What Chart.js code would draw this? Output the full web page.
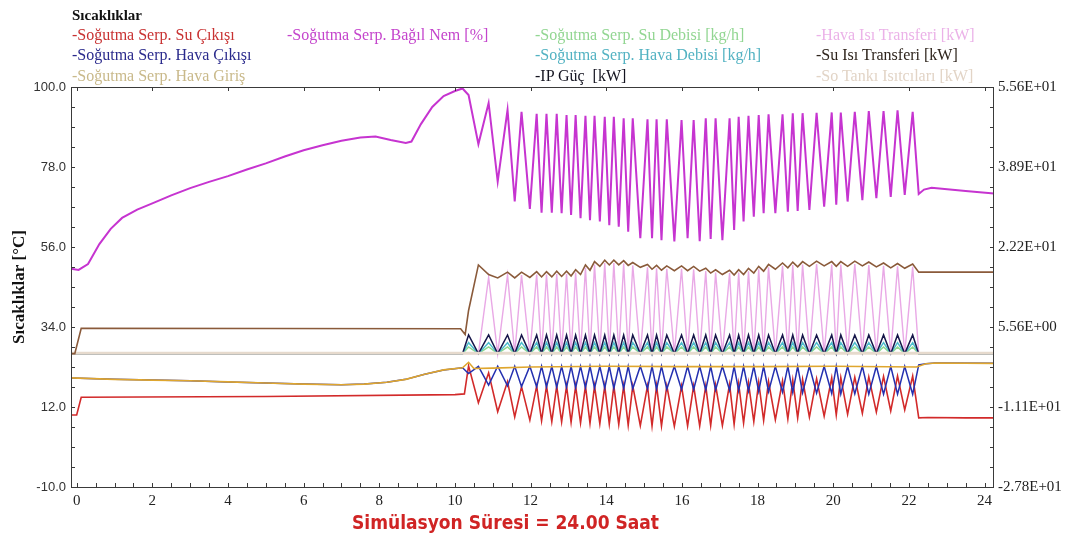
<!DOCTYPE html>
<html>
<head>
<meta charset="utf-8">
<script src="https://cdn.jsdelivr.net/npm/chart.js@4.4.1/dist/chart.umd.min.js"></script>
<style>
  body { margin: 0; background: #fff; }
  #wrap { position: relative; width: 1076px; height: 539px; overflow: hidden; }
  canvas { position: absolute; left: 0; top: 0; }
  .lg { position: absolute; font-family: "Liberation Serif", serif; font-size: 16px; line-height: 20px; white-space: pre; }
  #ttl { position: absolute; left: 72px; top: 5px; font-family: "Liberation Serif", serif; font-weight: bold; font-size: 15px; line-height: 20px; color: #111; }
  #xt { position: absolute; left: 352px; top: 510px; font-family: "Liberation Sans Narrow", "DejaVu Sans Condensed", sans-serif; font-weight: bold; font-size: 19px; line-height: 24px; color: #d02424; white-space: pre; }
</style>
</head>
<body>
<div id="wrap">
  <canvas id="c" width="1076" height="539"></canvas>
  <div id="ttl">Sıcaklıklar</div>
  <div id="xt">Simülasyon Süresi = 24.00 Saat</div>
</div>
<script>
// axis ticks
const xTicks = [0, 2, 4, 6, 8, 10, 12, 14, 16, 18, 20, 22, 24]
const leftTicks = [-10, 12, 34, 56, 78, 100]
const rightTicks = [-27.8, -11.12, 5.56, 22.24, 38.92, 55.6]

// shared times of the on/off cycling (peak, trough, peak, trough ...)
const oscT = [
  10.36, 10.62, 10.89, 11.13, 11.39, 11.58, 11.76, 11.98, 12.16, 12.29,
  12.42, 12.56, 12.69, 12.82, 12.95, 13.07, 13.19, 13.32, 13.45, 13.57,
  13.69, 13.83, 13.96, 14.08, 14.20, 14.33, 14.46, 14.58, 14.70, 14.90,
  15.09, 15.21, 15.33, 15.46, 15.60, 15.80, 15.99, 16.15, 16.31, 16.47,
  16.63, 16.76, 16.89, 17.07, 17.26, 17.38, 17.50, 17.63, 17.76, 17.90,
  18.03, 18.16, 18.29, 18.47, 18.66, 18.80, 18.93, 19.06, 19.19, 19.37,
  19.56, 19.76, 19.96, 20.08, 20.20, 20.38, 20.57, 20.77, 20.94, 21.14,
  21.33, 21.52, 21.70, 21.89, 22.10, 22.26
]

// Bağıl Nem [%]
const nemPreT = [-0.15, 0.05, 0.3, 0.6, 0.9, 1.2, 1.6, 2.0, 2.5, 3.0, 3.5, 4.0, 4.5, 5.0, 5.5, 6.0, 6.5, 7.0, 7.5, 7.9, 8.3, 8.7, 8.85, 9.1, 9.4, 9.7, 10.0, 10.2]
const nemPre = [50.0, 49.7, 51.3, 56.8, 61.0, 64.0, 66.3, 68.0, 70.2, 72.2, 73.9, 75.5, 77.3, 79.0, 80.9, 82.6, 84.0, 85.2, 86.1, 86.4, 85.4, 84.6, 85.0, 89.8, 94.5, 97.5, 98.9, 99.6]
const nemOsc = [
  97.8, 84.3, 95.6, 74.0, 93.7, 68.5, 93.2, 66.5, 92.6, 65.4,
  92.6, 65.4, 92.6, 65.3, 92.3, 64.8, 92.3, 63.9, 92.1, 63.4,
  92.1, 63.0, 91.8, 62.0, 91.8, 61.6, 91.4, 60.2, 91.4, 58.4,
  91.1, 58.4, 91.1, 57.9, 91.1, 57.5, 90.9, 58.4, 90.9, 57.6,
  91.4, 58.2, 91.4, 57.9, 91.4, 60.7, 91.8, 63.0, 92.1, 64.3,
  92.3, 65.3, 92.5, 65.3, 92.5, 65.7, 92.8, 65.9, 92.8, 66.2,
  92.9, 67.1, 93.0, 67.6, 93.0, 68.5, 93.2, 68.9, 93.4, 69.4,
  93.4, 69.8, 93.6, 70.3, 93.2, 70.6
]
const nemPostT = [22.4, 22.6, 23.5, 24.25]
const nemPost = [71.8, 72.3, 71.4, 70.7]

// Su Çıkışı
const suCikPreT = [-0.15, 0.0, 0.12, 5.0, 10.0, 10.25]
const suCikPre = [9.8, 9.8, 14.7, 14.9, 15.4, 15.6]
const suCikOsc = [
  23.3, 13.2, 21.4, 10.7, 19.0, 9.3, 17.6, 8.4, 17.8, 8.2,
  17.8, 8.0, 17.8, 7.9, 17.8, 7.8, 17.8, 7.6, 17.8, 7.5,
  17.8, 7.4, 17.8, 7.3, 17.8, 7.2, 17.8, 7.0, 17.8, 6.9,
  17.8, 6.8, 17.8, 6.8, 17.8, 6.7, 17.8, 6.8, 17.8, 6.8,
  17.8, 6.9, 18.0, 6.9, 18.2, 7.2, 18.4, 7.6, 18.6, 8.0,
  18.8, 8.3, 19.0, 8.5, 19.2, 8.7, 19.4, 9.0, 19.6, 9.2,
  19.8, 9.5, 20.0, 9.8, 20.1, 10.0, 20.2, 10.3, 20.3, 10.6,
  20.4, 10.9, 20.5, 11.2, 20.5, 9.0
]
const suCikPostT = [22.5, 23.5, 24.25]
const suCikPost = [9.1, 9.0, 9.0]

// Hava Giriş
const havaGirT = [-0.15, 1, 2, 3, 4, 5, 6, 7, 7.6, 8.2, 8.7, 9.2, 9.7, 10.2, 10.36, 10.5, 11.0, 12, 14, 16, 18, 20, 22.2, 22.45, 22.7, 24.25]
const havaGir = [20.0, 19.6, 19.4, 19.2, 18.9, 18.6, 18.3, 18.1, 18.3, 18.8, 19.6, 21.0, 22.2, 22.8, 24.3, 22.6, 22.7, 23.0, 23.2, 23.1, 23.1, 23.2, 23.0, 23.9, 24.1, 24.0]

// Hava Çıkışı (same as inlet before cooling starts)
const havaCikPreT = [-0.15, 1, 2, 3, 4, 5, 6, 7, 7.6, 8.2, 8.7, 9.2, 9.7, 10.2]
const havaCikPre = [20.0, 19.6, 19.4, 19.2, 18.9, 18.6, 18.3, 18.1, 18.3, 18.8, 19.6, 21.0, 22.2, 22.8]
const havaCikOsc = [
  21.2, 23.2, 18.0, 23.2, 17.8, 23.2, 17.6, 23.2, 17.5, 23.2,
  17.5, 23.2, 17.4, 23.2, 17.4, 23.2, 17.3, 23.2, 17.3, 23.2,
  17.2, 23.2, 17.2, 23.2, 17.1, 23.2, 17.1, 23.2, 17.0, 23.2,
  17.0, 23.2, 16.9, 23.2, 16.9, 23.2, 16.8, 23.2, 16.8, 23.2,
  16.7, 23.2, 16.7, 23.2, 16.6, 23.2, 16.5, 23.2, 16.4, 23.2,
  16.3, 23.2, 16.2, 23.2, 16.1, 23.2, 16.0, 23.2, 15.9, 23.2,
  15.8, 23.2, 15.7, 23.2, 15.6, 23.2, 15.6, 23.2, 15.5, 23.2,
  15.5, 23.2, 15.5, 23.2, 15.5, 23.6
]
const havaCikPostT = [22.45, 22.7, 24.25]
const havaCikPost = [23.9, 24.1, 24.0]

// right axis series [kW], [kg/h]
const zeroPreT = [-0.15, 10.2]
const zeroPre = [0, 0]
const zeroPostT = [24.25]
const zeroPost = [0]

const ipGucOsc = [
  3.9, 0, 3.9, 0, 3.9, 0, 3.9, 0, 3.9, 0,
  3.9, 0, 3.9, 0, 3.9, 0, 3.9, 0, 3.9, 0,
  3.9, 0, 3.9, 0, 3.9, 0, 3.9, 0, 3.9, 0,
  3.9, 0, 3.9, 0, 3.9, 0, 3.9, 0, 3.9, 0,
  3.9, 0, 3.9, 0, 3.9, 0, 3.9, 0, 3.9, 0,
  3.9, 0, 3.9, 0, 3.9, 0, 3.9, 0, 3.9, 0,
  3.9, 0, 3.9, 0, 3.9, 0, 3.9, 0, 3.9, 0,
  3.9, 0, 3.9, 0, 3.9, 0
]
const havaDebOsc = [
  2.3, 0, 2.3, 0, 2.3, 0, 2.3, 0, 2.3, 0,
  2.3, 0, 2.3, 0, 2.3, 0, 2.3, 0, 2.3, 0,
  2.3, 0, 2.3, 0, 2.3, 0, 2.3, 0, 2.3, 0,
  2.3, 0, 2.3, 0, 2.3, 0, 2.3, 0, 2.3, 0,
  2.3, 0, 2.3, 0, 2.3, 0, 2.3, 0, 2.3, 0,
  2.3, 0, 2.3, 0, 2.3, 0, 2.3, 0, 2.3, 0,
  2.3, 0, 2.3, 0, 2.3, 0, 2.3, 0, 2.3, 0,
  2.3, 0, 2.3, 0, 2.3, 0
]
const suDebOsc = [
  1.4, 0, 1.4, 0, 1.4, 0, 1.4, 0, 1.4, 0,
  1.4, 0, 1.4, 0, 1.4, 0, 1.4, 0, 1.4, 0,
  1.4, 0, 1.4, 0, 1.4, 0, 1.4, 0, 1.4, 0,
  1.4, 0, 1.4, 0, 1.4, 0, 1.4, 0, 1.4, 0,
  1.4, 0, 1.4, 0, 1.4, 0, 1.4, 0, 1.4, 0,
  1.4, 0, 1.4, 0, 1.4, 0, 1.4, 0, 1.4, 0,
  1.4, 0, 1.4, 0, 1.4, 0, 1.4, 0, 1.4, 0,
  1.4, 0, 1.4, 0, 1.4, 0
]
const havaIsiOsc = [
  0, 0, 15.9, 0, 16.4, 0, 16.4, 0, 16.5, 0,
  16.5, 0, 16.6, 0, 16.6, 0, 16.9, 0, 17.9, 0,
  18.6, 0, 18.9, 0, 18.9, 0, 18.8, 0, 18.4, 0,
  18.0, 0, 17.8, 0, 17.7, 0, 17.7, 0, 17.6, 0,
  17.2, 0, 16.9, 0, 16.8, 0, 16.9, 0, 17.2, 0,
  17.6, 0, 18.0, 0, 18.3, 0, 18.5, 0, 18.6, 0,
  18.7, 0, 18.6, 0, 18.6, 0, 18.7, 0, 18.5, 0,
  18.3, 0, 18.2, 0, 18.1, 0
]

// Su Isı Transferi
const suIsiPreT = [-0.15, -0.05, 0.12, 10.15, 10.27]
const suIsiPre = [0, 0, 5.3, 5.2, 4.0]
const suIsiOsc = [
  9.0, 18.5, 16.5, 15.8, 17.0, 15.8, 17.0, 15.9, 17.1, 16.0,
  17.1, 16.0, 17.2, 16.1, 17.2, 16.2, 17.5, 16.5, 18.5, 17.4,
  19.2, 18.2, 19.5, 18.5, 19.5, 18.5, 19.4, 18.4, 19.0, 18.0,
  18.6, 17.6, 18.4, 17.4, 18.3, 17.3, 18.3, 17.3, 18.2, 17.2,
  17.8, 16.8, 17.5, 16.5, 17.4, 16.4, 17.5, 16.5, 17.8, 16.8,
  18.2, 17.2, 18.6, 17.6, 18.9, 17.9, 19.1, 18.1, 19.2, 18.2,
  19.3, 18.3, 19.2, 18.2, 19.2, 18.2, 19.3, 18.3, 19.1, 18.1,
  18.9, 17.9, 18.8, 17.8, 18.7, 17.0
]
const suIsiPostT = [22.4, 24.25]
const suIsiPost = [17.0, 17.0]

// So Tankı Isıtcıları
const tankT = [-0.15, 24.25]
const tank = [0.1, 0.1]

function pts(preT, preV, oscV, postT, postV) {
  const p = []
  preT.forEach((t, i) => p.push({ x: t, y: preV[i] }))
  if (oscV) oscT.forEach((t, i) => p.push({ x: t, y: oscV[i] }))
  if (postT) postT.forEach((t, i) => p.push({ x: t, y: postV[i] }))
  return p
}

function sci(v) {
  let [m, e] = Number(v).toExponential(2).split('e')
  let n = parseInt(e)
  return m + 'E' + (n < 0 ? '-' : '+') + String(Math.abs(n)).padStart(2, '0')
}

// draw order: first in list is on top
const series = [
  { label: '-Soğutma Serp. Bağıl Nem [%]', color: '#c634d0', text: '#c444cc', col: 1, row: 0, axis: 'y', w: 2, data: pts(nemPreT, nemPre, nemOsc, nemPostT, nemPost) },
  { label: '-Su Isı Transferi [kW]', color: '#8a5a3a', text: '#2e241c', col: 3, row: 1, axis: 'y2', w: 1.6, data: pts(suIsiPreT, suIsiPre, suIsiOsc, suIsiPostT, suIsiPost) },
  { label: '-Soğutma Serp. Hava Giriş', color: '#dfa62e', text: '#c9b98a', col: 0, row: 2, axis: 'y', w: 1.6, data: pts(havaGirT, havaGir) },
  { label: '-Soğutma Serp. Hava Çıkışı', color: '#2430b0', text: '#2a2a8c', col: 0, row: 1, axis: 'y', w: 1.5, data: pts(havaCikPreT, havaCikPre, havaCikOsc, havaCikPostT, havaCikPost) },
  { label: '-Soğutma Serp. Su Çıkışı', color: '#d22a2a', text: '#c83232', col: 0, row: 0, axis: 'y', w: 1.6, data: pts(suCikPreT, suCikPre, suCikOsc, suCikPostT, suCikPost) },
  { label: '-So Tankı Isıtcıları [kW]', color: '#e6dacd', text: '#e2d4c6', col: 3, row: 2, axis: 'y2', w: 3, data: pts(tankT, tank) },
  { label: '-IP Güç  [kW]', color: '#16164a', text: '#141420', col: 2, row: 2, axis: 'y2', w: 1.5, data: pts(zeroPreT, zeroPre, ipGucOsc, zeroPostT, zeroPost) },
  { label: '-Soğutma Serp. Hava Debisi [kg/h]', color: '#4cbccc', text: '#52b2c2', col: 2, row: 1, axis: 'y2', w: 1.5, data: pts(zeroPreT, zeroPre, havaDebOsc, zeroPostT, zeroPost) },
  { label: '-Soğutma Serp. Su Debisi [kg/h]', color: '#8ed88e', text: '#92d692', col: 2, row: 0, axis: 'y2', w: 1.5, data: pts(zeroPreT, zeroPre, suDebOsc, zeroPostT, zeroPost) },
  { label: '-Hava Isı Transferi [kW]', color: '#e9a9e6', text: '#ebb2e8', col: 3, row: 0, axis: 'y2', w: 1.4, data: pts(zeroPreT, zeroPre, havaIsiOsc, zeroPostT, zeroPost) }
]

// legend as text
const legendX = [72, 287, 535, 816]
const legendY = [25, 45, 66]
const wrap = document.getElementById('wrap')
series.forEach((s) => {
  const d = document.createElement('div')
  d.className = 'lg'
  d.style.left = legendX[s.col] + 'px'
  d.style.top = legendY[s.row] + 'px'
  d.style.color = s.text
  d.textContent = s.label
  wrap.appendChild(d)
})

// frame and inward tick marks
const frame = {
  id: 'frame',
  afterDraw(chart) {
    const { ctx, chartArea: a, scales } = chart
    const x = scales.x, y = scales.y
    ctx.save()
    ctx.strokeStyle = '#3a3a3a'
    ctx.lineWidth = 1
    ctx.strokeRect(a.left + 0.5, a.top + 0.5, a.right - a.left - 1, a.bottom - a.top)
    ctx.beginPath()
    for (let i = 0; i < xTicks.length; i++) {
      const px = Math.round(x.getPixelForValue(xTicks[i])) + 0.5
      ctx.moveTo(px, a.top); ctx.lineTo(px, a.top + 4)
      if (i < xTicks.length - 1) {
        for (let k = 0; k < 4; k++) {
          const q = Math.round(x.getPixelForValue(xTicks[i] + (xTicks[i + 1] - xTicks[i]) * k / 4)) + 0.5
          ctx.moveTo(q, a.bottom); ctx.lineTo(q, a.bottom - 4)
        }
      } else {
        ctx.moveTo(px, a.bottom); ctx.lineTo(px, a.bottom - 4)
      }
    }
    for (let i = 0; i < leftTicks.length - 1; i++) {
      for (let k = 0; k < 4; k++) {
        const py = Math.round(y.getPixelForValue(leftTicks[i] + (leftTicks[i + 1] - leftTicks[i]) * k / 4)) + 0.5
        ctx.moveTo(a.left, py); ctx.lineTo(a.left + 4, py)
        ctx.moveTo(a.right, py); ctx.lineTo(a.right - 4, py)
      }
    }
    ctx.stroke()
    ctx.restore()
  }
}

new Chart(document.getElementById('c'), {
  type: 'line',
  data: {
    datasets: series.map((s) => ({
      label: s.label,
      data: s.data,
      yAxisID: s.axis,
      borderColor: s.color,
      borderWidth: s.w,
      pointRadius: 0,
      tension: 0,
      fill: false
    }))
  },
  options: {
    responsive: false,
    animation: false,
    layout: { padding: { top: 87, left: 0, right: 0, bottom: 0 } },
    plugins: { legend: { display: false }, tooltip: { enabled: false } },
    scales: {
      x: {
        type: 'linear',
        min: -0.15,
        max: 24.25,
        afterBuildTicks: (s) => { s.ticks = xTicks.map((v) => ({ value: v })) },
        afterFit: (s) => { s.height = 52 },
        grid: { display: false, drawTicks: false },
        border: { display: false },
        ticks: { autoSkip: false, maxRotation: 0, padding: 5, color: '#222', font: { family: 'Liberation Serif', size: 15 } }
      },
      y: {
        type: 'linear',
        position: 'left',
        min: -10,
        max: 100,
        afterBuildTicks: (s) => { s.ticks = leftTicks.map((v) => ({ value: v })) },
        afterFit: (s) => { s.width = 71 },
        grid: { display: false, drawTicks: false },
        border: { display: false },
        ticks: { padding: 5, color: '#333', font: { family: 'Liberation Sans', size: 13 }, callback: (v) => Number(v).toFixed(1) },
        title: { display: true, text: 'Sıcaklıklar [°C]', color: '#111', padding: { top: 9, bottom: 0 }, font: { family: 'Liberation Serif', size: 17, weight: 'bold' } }
      },
      y2: {
        type: 'linear',
        position: 'right',
        min: -27.8,
        max: 55.6,
        afterBuildTicks: (s) => { s.ticks = rightTicks.map((v) => ({ value: v })) },
        afterFit: (s) => { s.width = 82 },
        grid: { display: false, drawTicks: false },
        border: { display: false },
        ticks: { padding: 4, color: '#222', font: { family: 'Liberation Serif', size: 15 }, callback: (v) => sci(v) }
      }
    }
  },
  plugins: [frame]
})
</script>
</body>
</html>
